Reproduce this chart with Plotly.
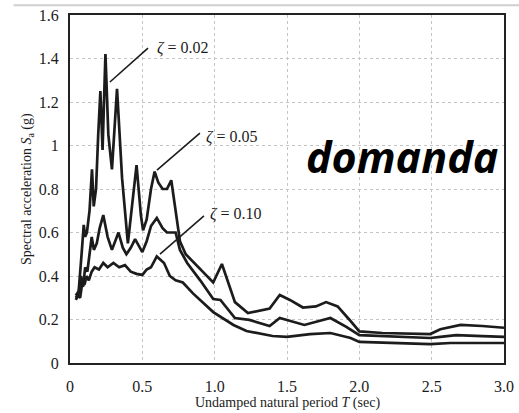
import plotly.graph_objects as go

# ---- data ----
period_a = [0.04, 0.06, 0.08, 0.095, 0.105, 0.117, 0.135, 0.152, 0.164, 0.18, 0.195, 0.21,
            0.225, 0.245, 0.265, 0.29, 0.325, 0.36, 0.40, 0.43, 0.46, 0.49, 0.505, 0.53,
            0.56, 0.585, 0.61, 0.64, 0.67, 0.70, 0.73, 0.76, 0.80, 0.90, 0.99, 1.05,
            1.14, 1.23, 1.30, 1.38, 1.45, 1.52, 1.61, 1.70, 1.77, 1.85, 1.93, 2.0,
            2.16, 2.49, 2.56, 2.70, 2.85, 3.0]
sa_a = [0.31, 0.33, 0.50, 0.635, 0.58, 0.60, 0.70, 0.89, 0.72, 0.80, 1.05, 1.25,
        0.98, 1.42, 1.05, 0.89, 1.26, 0.85, 0.55, 0.72, 0.91, 0.68, 0.61, 0.66,
        0.80, 0.88, 0.83, 0.80, 0.80, 0.84, 0.70, 0.56, 0.50, 0.43, 0.37, 0.455,
        0.28, 0.23, 0.24, 0.25, 0.313, 0.29, 0.255, 0.26, 0.28, 0.26, 0.20, 0.145,
        0.138, 0.133, 0.155, 0.175, 0.17, 0.162]

period_b = [0.04, 0.06, 0.075, 0.09, 0.105, 0.12, 0.135, 0.15, 0.165, 0.185, 0.205, 0.23,
            0.26, 0.29, 0.335, 0.365, 0.39, 0.42, 0.45, 0.48, 0.50, 0.53, 0.56, 0.60,
            0.64, 0.67, 0.73, 0.76, 0.81, 0.90, 0.99, 1.04, 1.14, 1.24, 1.38, 1.45,
            1.54, 1.62, 1.80, 1.91, 2.0, 2.49, 2.56, 2.67, 2.85, 3.0]
sa_b = [0.30, 0.32, 0.40, 0.35, 0.44, 0.42, 0.50, 0.58, 0.52, 0.55, 0.62, 0.68,
        0.58, 0.52, 0.60, 0.53, 0.50, 0.53, 0.57, 0.53, 0.51, 0.56, 0.63, 0.667,
        0.62, 0.60, 0.60, 0.52, 0.46, 0.38, 0.294, 0.29, 0.207, 0.198, 0.17, 0.207,
        0.19, 0.175, 0.207, 0.166, 0.128, 0.115, 0.12, 0.128, 0.124, 0.12]

period_c = [0.04, 0.055, 0.07, 0.085, 0.10, 0.115, 0.13, 0.15, 0.17, 0.20, 0.23, 0.26,
            0.30, 0.34, 0.38, 0.42, 0.46, 0.50, 0.53, 0.56, 0.60, 0.65, 0.69, 0.73,
            0.78, 0.85, 0.99, 1.13, 1.22, 1.40, 1.50, 1.66, 1.80, 1.94, 2.0, 2.49,
            2.63, 3.0]
sa_c = [0.29, 0.31, 0.30, 0.37, 0.36, 0.40, 0.38, 0.42, 0.44, 0.43, 0.46, 0.44,
        0.46, 0.44, 0.45, 0.42, 0.41, 0.405, 0.43, 0.44, 0.49, 0.46, 0.40, 0.38,
        0.37, 0.32, 0.234, 0.175, 0.147, 0.124, 0.12, 0.133, 0.138, 0.115, 0.097, 0.087,
        0.092, 0.092]

x_tick_vals = [0, 0.5, 1.0, 1.5, 2.0, 2.5, 3.0]
x_tick_text = ["0", "0.5", "1.0", "1.5", "2.0", "2.5", "3.0"]
y_tick_vals = [0, 0.2, 0.4, 0.6, 0.8, 1.0, 1.2, 1.4, 1.6]
y_tick_text = ["0", "0.2", "0.4", "0.6", "0.8", "1", "1.2", "1.4", "1.6"]

labels = ["<i>ζ</i> = 0.02", "<i>ζ</i> = 0.05", "<i>ζ</i> = 0.10"]
x_title = "Undamped natural period <i>T</i> (sec)"
y_title = "Spectral acceleration <i>S</i><sub>a</sub> (g)"

SERIF = "Liberation Serif, Times New Roman, serif"
INK = "#1c1c1c"

fig = go.Figure()
for px_, sy in [(period_a, sa_a), (period_b, sa_b), (period_c, sa_c)]:
    fig.add_trace(go.Scatter(x=px_, y=sy, mode="lines",
                             line=dict(color=INK, width=2.7),
                             showlegend=False, hoverinfo="skip"))

# leader lines and labels (data coords)
leaders = [((0.276, 1.292), (0.539, 1.448), (0.585, 1.447)),
           ((0.601, 0.887), (0.898, 1.057), (0.926, 1.040)),
           ((0.622, 0.501), (0.926, 0.676), (0.955, 0.686))]
for (p0, p1, pt), lab in zip(leaders, labels):
    fig.add_shape(type="line", x0=p0[0], y0=p0[1], x1=p1[0], y1=p1[1],
                  xref="x", yref="y", line=dict(color=INK, width=1.6))
    fig.add_annotation(x=pt[0], y=pt[1], xref="x", yref="y", text=lab,
                       showarrow=False, xanchor="left", yanchor="middle",
                       font=dict(family=SERIF, size=16, color=INK))

fig.add_annotation(x=0.765, y=0.593, xref="paper", yref="paper", text="<b><i>domanda</i></b>",
                   showarrow=False, xanchor="center", yanchor="middle",
                   font=dict(family="Open Sans, sans-serif", size=43, color="#000000"))

# axis titles as fixed annotations
fig.add_annotation(x=0.5, y=-0.115, xref="paper", yref="paper", text=x_title,
                   showarrow=False, xanchor="center", yanchor="middle",
                   font=dict(family=SERIF, size=14, color=INK))
fig.add_annotation(x=-0.099, y=0.5, xref="paper", yref="paper", text=y_title,
                   showarrow=False, xanchor="center", yanchor="middle", textangle=-90,
                   font=dict(family=SERIF, size=14, color=INK))

# scan border line on top
fig.add_shape(type="line", xref="paper", yref="paper", x0=-0.13, x1=1.04, y0=1.028, y1=1.028,
              line=dict(color="#cfcfcf", width=2))

fig.update_xaxes(range=[0, 3.0], tickvals=x_tick_vals, ticktext=x_tick_text,
                 showline=True, mirror=True, linecolor="#222", linewidth=2.2,
                 showgrid=True, gridcolor="#c4c4c4", griddash="dot", gridwidth=1,
                 zeroline=False, ticks="", ticklabelstandoff=8, ticklabeloverflow="allow",
                 automargin=False,
                 tickfont=dict(family=SERIF, size=16, color=INK))
fig.update_yaxes(range=[0, 1.6], tickvals=y_tick_vals, ticktext=y_tick_text,
                 showline=True, mirror=True, linecolor="#222", linewidth=2.2,
                 showgrid=True, gridcolor="#c4c4c4", griddash="dot", gridwidth=1,
                 zeroline=False, ticks="", ticklabelstandoff=6, ticklabeloverflow="allow",
                 automargin=False,
                 tickfont=dict(family=SERIF, size=16, color=INK))

fig.update_layout(width=519, height=413, margin=dict(l=70, r=15, t=15, b=50),
                  paper_bgcolor="white", plot_bgcolor="white")

# remove the default page margin so the figure fills the 519x413 window exactly
fig.write_html("out.html", config={"displayModeBar": False},
               post_script="document.body.style.margin='0';document.body.style.overflow='hidden';")
